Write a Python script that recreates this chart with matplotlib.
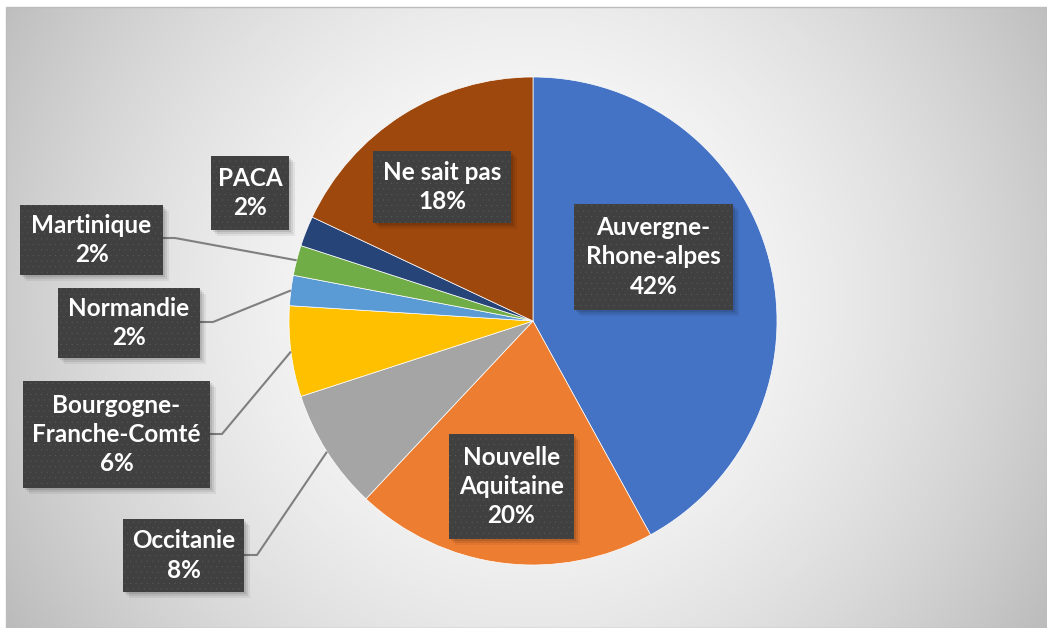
import matplotlib

matplotlib.use("Agg")
import matplotlib.pyplot as plt
import numpy as np
from matplotlib.patches import Rectangle

# data, clockwise from 12 o'clock
regions = [
    "Auvergne-\nRhone-alpes",
    "Nouvelle\nAquitaine",
    "Occitanie",
    "Bourgogne-\nFranche-Comté",
    "Normandie",
    "Martinique",
    "PACA",
    "Ne sait pas",
]
shares = [42, 20, 8, 6, 2, 2, 2, 18]
colors = ["#4472C4", "#ED7D31", "#A5A5A5", "#FFC000", "#5B9BD5", "#70AD47", "#264478", "#9E480E"]

# label boxes in pixels: left, top, right, bottom
boxes = [
    (574, 204, 733, 310),
    (449, 434, 574, 539),
    (123, 519, 244, 592),
    (23, 381, 210, 488),
    (58, 288, 200, 358),
    (20, 205, 163, 275),
    (211, 156, 289, 230),
    (373, 151, 511, 223),
]
# leader lines: (box edge x, y, elbow x) or None
leaders = [None, None, (244, 555, 257), (210, 434, 222), (200, 322, 213), (163, 238, 175), None, None]

W, H = 1047, 628
CX, CY, R = 533, 321, 244

fig = plt.figure(figsize=(W / 100, H / 100), dpi=100)
ax = fig.add_axes([0, 0, 1, 1])


def fy(y):
    return H - y


# radial gradient background
x0, y0, x1, y1 = 6, 7, W, H
xs = np.arange(x0, x1) + 0.5
ys = np.arange(y0, y1) + 0.5
gx, gy = np.meshgrid(xs, ys)
dist = np.hypot(gx - 528, gy - 300) / 600.0
shade = np.clip(255 - 65 * dist ** 1.7, 185, 255) / 255.0
img = np.dstack([shade, shade, shade])
ax.imshow(img, extent=(x0, x1, fy(y1), fy(y0)), origin="upper", zorder=0, aspect="auto")
ax.add_patch(Rectangle((x0, fy(y1)), x1 - x0, y1 - y0, fill=False, edgecolor="#bdbdbd", lw=1, zorder=1))

wedges, _ = ax.pie(
    shares,
    colors=colors,
    startangle=90,
    counterclock=False,
    center=(CX, fy(CY)),
    radius=R,
    frame=True,
    wedgeprops=dict(linewidth=0.5, edgecolor="white"),
)
ax.set_xlim(0, W)
ax.set_ylim(0, H)
ax.set_aspect("auto")
ax.axis("off")

plt.rcParams["hatch.linewidth"] = 0.0
for wedge, label, share, box, lead in zip(wedges, regions, shares, boxes, leaders):
    if lead is not None:
        mid = np.deg2rad((wedge.theta1 + wedge.theta2) / 2)
        ex = CX + R * np.cos(mid)
        ey = fy(CY) + R * np.sin(mid)
        bx, by, kx = lead
        ax.plot([bx, kx, ex], [fy(by), fy(by), ey], color="#7f7f7f", lw=1.5, zorder=3,
                solid_capstyle="butt")
    left, top, right, bottom = box
    for k, a in enumerate([0.10, 0.08, 0.06]):
        off = 2 + 2 * k
        ax.add_patch(Rectangle((left + off, fy(bottom) - off), right - left, bottom - top,
                               facecolor="black", edgecolor="none", alpha=a, zorder=4))
    ax.add_patch(Rectangle((left, fy(bottom)), right - left, bottom - top,
                           facecolor="#404040", edgecolor="none", zorder=5))
    ax.add_patch(Rectangle((left, fy(bottom)), right - left, bottom - top,
                           facecolor="none", edgecolor="#606060", hatch="...", lw=0, zorder=6))
    ax.text((left + right) / 2, fy((top + bottom) / 2), f"{label}\n{share}%",
            ha="center", va="center", color="white", fontsize=17.5, fontweight="bold",
            family=["Lato", "DejaVu Sans"], linespacing=1.32, zorder=7)

fig.savefig("out.png", dpi=100, facecolor="white")
